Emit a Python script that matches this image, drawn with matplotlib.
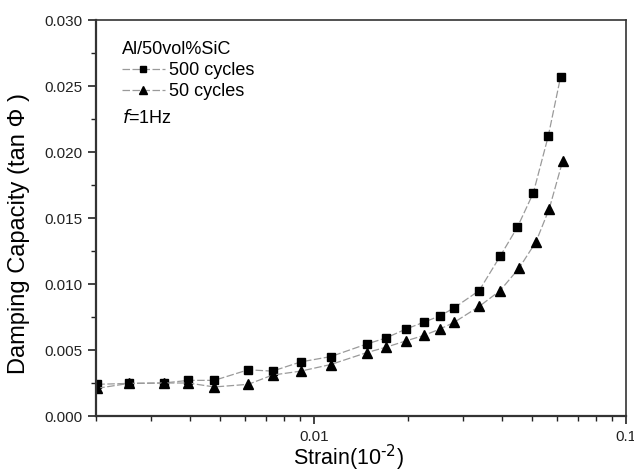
import numpy as np
import matplotlib.pyplot as plt
from matplotlib.ticker import FixedLocator, MultipleLocator, NullFormatter, LogLocator

plt.rcParams['font.family'] = ['Liberation Sans', 'DejaVu Sans']

# strain values
strain_500 = [0.00202, 0.00255, 0.00330, 0.00395, 0.00479, 0.00615, 0.00736, 0.00907,
              0.01131, 0.01474, 0.01695, 0.01977, 0.02246, 0.02541, 0.02815, 0.03383,
              0.03948, 0.04485, 0.05045, 0.05633, 0.06171]
damping_500 = [0.0024, 0.00247, 0.0025, 0.0027, 0.0027, 0.0035, 0.0034, 0.0041,
               0.0045, 0.00545, 0.0059, 0.0066, 0.0071, 0.0076, 0.0082, 0.0095,
               0.0121, 0.0143, 0.0169, 0.0212, 0.0257]

strain_50 = [0.00202, 0.00255, 0.00330, 0.00395, 0.00479, 0.00615, 0.00736, 0.00907,
             0.01131, 0.01474, 0.01695, 0.01977, 0.02246, 0.02541, 0.02815, 0.03383,
             0.03948, 0.04541, 0.05146, 0.05675, 0.06262]
damping_50 = [0.0021, 0.00247, 0.0025, 0.0025, 0.0022, 0.0024, 0.0031, 0.0034,
              0.0039, 0.0048, 0.0052, 0.0057, 0.0061, 0.0066, 0.0071, 0.0083,
              0.0095, 0.0112, 0.0132, 0.0157, 0.0193]

fig = plt.figure(figsize=(6.34, 4.73), dpi=100)
ax = fig.add_axes([0.1514, 0.1205, 0.8360, 0.8372])

line_kw = dict(color='#9a9a9a', linestyle=(0, (6, 2)), linewidth=0.9,
               markerfacecolor='black', markeredgecolor='black')
ax.plot(strain_500, damping_500, marker='s', markersize=5.5, label='500 cycles', **line_kw)
ax.plot(strain_50, damping_50, marker='^', markersize=7.5, label='50 cycles', **line_kw)

ax.set_xscale('log')
ax.set_xlim(0.002, 0.1)
ax.set_ylim(0.0, 0.030)

ax.xaxis.set_major_locator(FixedLocator([0.01, 0.1]))
ax.set_xticklabels(['0.01', '0.1'])
ax.xaxis.set_minor_locator(LogLocator(base=10, subs=np.arange(2, 10)))
ax.xaxis.set_minor_formatter(NullFormatter())
ax.yaxis.set_major_locator(MultipleLocator(0.005))
ax.yaxis.set_minor_locator(MultipleLocator(0.0025))
ax.yaxis.set_major_formatter(plt.FuncFormatter(lambda v, p: '%.3f' % v))

ax.tick_params(which='both', direction='out', top=False, right=False, labelsize=11, colors='#222222')
ax.tick_params(which='major', length=6, width=1.2, pad=4)
ax.tick_params(which='minor', length=3.5, width=1.0)
for s in ax.spines.values():
    s.set_linewidth(1.2)
    s.set_color('#333333')
ax.spines['left'].set_linewidth(1.6)
ax.spines['bottom'].set_linewidth(1.6)

# axis titles placed in figure coordinates
fig.text(0.549, 0.031, 'Strain(10$^{\\text{-2}}$)', fontsize=15.5, ha='center', va='center')
fig.text(0.03, 0.507, 'Damping Capacity (tan \u03a6 )', fontsize=17, rotation=90,
         ha='center', va='center')

ax.text(0.0485, 0.926, 'Al/50vol%SiC', transform=ax.transAxes, fontsize=13, va='center')
ax.legend(loc='upper left', bbox_to_anchor=(0.0485, 0.893), frameon=False, fontsize=13,
          handlelength=2.4, handletextpad=0.2, labelspacing=0.22, borderpad=0,
          borderaxespad=0, markerscale=0.85)
ax.text(0.0485, 0.7525, '$f$=1Hz', transform=ax.transAxes, fontsize=13, va='center')

fig.savefig('out.png', dpi=100)
